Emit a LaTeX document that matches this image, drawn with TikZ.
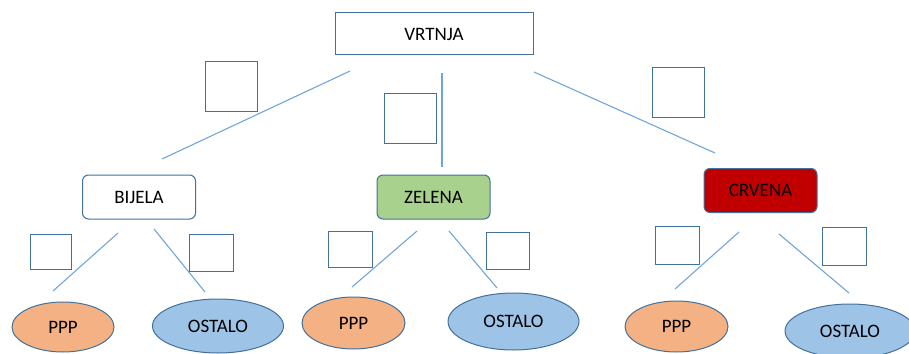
\documentclass[tikz,border=0pt]{standalone}
\usepackage{fontspec}
\setmainfont{Carlito}
\usetikzlibrary{shapes.geometric}
\definecolor{edgeblue}{HTML}{41719C}
\definecolor{lineblue}{HTML}{6FA6DA}
\definecolor{greenfill}{HTML}{A9D18E}
\definecolor{redfill}{HTML}{C00000}
\definecolor{orangefill}{HTML}{F4B183}
\definecolor{bluefill}{HTML}{9DC3E6}
\tikzset{
  lbl/.style={font=\fontsize{19}{21}\selectfont, text=black},
  topbox/.style={lbl, draw=edgeblue, line width=1pt, fill=white, inner sep=0pt},
  catbox/.style={lbl, draw=edgeblue, line width=1pt, rounded corners=6pt, inner sep=0pt, minimum width=113pt, minimum height=44pt},
  sq/.style={draw=edgeblue, line width=1pt, fill=white, inner sep=0pt},
  leaf/.style={lbl, ellipse, draw=edgeblue, line width=1pt, inner sep=0pt},
  conn/.style={draw=lineblue, line width=1.1pt}
}
\begin{document}
\begin{tikzpicture}[x=1pt,y=-1pt]
\useasboundingbox (0,0) rectangle (909,353);
\clip (0,0) rectangle (909,353);
% top node
\node[topbox, minimum width=198pt, minimum height=42pt] (vrtnja) at (434,34) {VRTNJA};
% categories
\node[catbox, fill=white] (bijela) at (139,197) {BIJELA};
\node[catbox, fill=greenfill] (zelena) at (433.5,197) {ZELENA};
\node[catbox, fill=redfill] (crvena) at (760.5,190.5) {CRVENA};
% leaves
\node[leaf, fill=orangefill, minimum width=102pt, minimum height=50pt] (ppp1) at (63,327) {PPP};
\node[leaf, fill=bluefill, minimum width=131pt, minimum height=54pt] (ost1) at (218,326) {OSTALO};
\node[leaf, fill=orangefill, minimum width=103pt, minimum height=52pt] (ppp2) at (353.5,323) {PPP};
\node[leaf, fill=bluefill, minimum width=131pt, minimum height=57pt] (ost2) at (513.5,321.5) {OSTALO};
\node[leaf, fill=orangefill, minimum width=103pt, minimum height=51pt] (ppp3) at (676.5,326.5) {PPP};
\node[leaf, fill=bluefill, minimum width=130pt, minimum height=54pt] (ost3) at (850,331) {OSTALO};
% empty squares
\node[sq, minimum width=52pt, minimum height=50pt] (s1) at (231,86) {};
\node[sq, minimum width=52pt, minimum height=50pt] (s2) at (410,118) {};
\node[sq, minimum width=52pt, minimum height=50pt] (s3) at (678,92) {};
\node[sq, minimum width=41pt, minimum height=35pt] (sbl) at (50.5,251.5) {};
\node[sq, minimum width=44pt, minimum height=37pt] (sbr) at (211,252.5) {};
\node[sq, minimum width=44pt, minimum height=36pt] (szl) at (350,249) {};
\node[sq, minimum width=43pt, minimum height=37pt] (szr) at (507.5,250.5) {};
\node[sq, minimum width=44pt, minimum height=38pt] (scl) at (677,245) {};
\node[sq, minimum width=44pt, minimum height=38pt] (scr) at (844,246) {};
% connector end points
\coordinate (v1) at (350,71);  \coordinate (b0) at (162,159);
\coordinate (v2) at (442,73);  \coordinate (z0) at (442,167);
\coordinate (v3) at (534,72);  \coordinate (c0) at (715,153);
\coordinate (b1) at (118,233); \coordinate (p1) at (53,291);
\coordinate (b2) at (154,229); \coordinate (o1) at (205,292);
\coordinate (z1) at (417,231); \coordinate (p2) at (352,287);
\coordinate (z2) at (449,231); \coordinate (o2) at (497,288);
\coordinate (c1) at (739,232); \coordinate (p3) at (675,289);
\coordinate (c2) at (779,234); \coordinate (o3) at (849,293);
% connectors
\draw[conn] (v1) -- (b0);
\draw[conn] (v2) -- (z0);
\draw[conn] (v3) -- (c0);
\draw[conn] (b1) -- (p1);
\draw[conn] (b2) -- (o1);
\draw[conn] (z1) -- (p2);
\draw[conn] (z2) -- (o2);
\draw[conn] (c1) -- (p3);
\draw[conn] (c2) -- (o3);
\end{tikzpicture}
\end{document}
